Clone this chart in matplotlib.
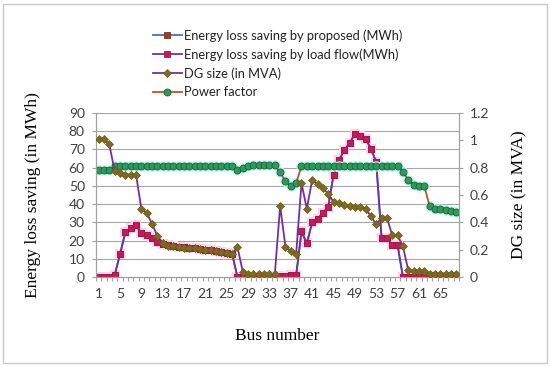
import matplotlib
matplotlib.use("Agg")
import matplotlib.pyplot as plt
from matplotlib.patches import Rectangle
from matplotlib.ticker import MultipleLocator, FixedLocator
import numpy as np

plt.rcParams['font.family'] = ['Lato', 'DejaVu Sans']

# bus numbers 1..68
bus = np.arange(1, 69)

# energy loss saving (MWh), proposed and load flow overlap
loss_proposed = [0, 0, 0, 1, 12.5, 24.5, 27, 28.5, 24, 23,
                 21.5, 19, 18, 17.3, 16.8, 16.5, 16.2, 16.0, 15.7, 15.4,
                 15.0, 14.7, 14.3, 13.5, 13.0, 12.7, 0, 0, 0, 0,
                 0, 0, 0, 0.5, 0.5, 0.5, 1, 1, 25, 18.5,
                 30, 32, 35, 38.5, 56, 64, 69.5, 73.5, 78.5, 77.5,
                 76, 70.5, 63, 21.5, 21.5, 17.5, 17.5, 0, 0, 0,
                 0, 0, 0, 0, 0, 0, 0, 0]
loss_loadflow = list(loss_proposed)

# DG size (MVA)
dg_size = [1.01, 1.01, 0.97, 0.775, 0.76, 0.75, 0.75, 0.75, 0.50, 0.47,
           0.39, 0.30, 0.25, 0.23, 0.225, 0.22, 0.215, 0.213, 0.21, 0.205,
           0.20, 0.195, 0.19, 0.18, 0.175, 0.17, 0.22, 0.04, 0.02, 0.02,
           0.02, 0.02, 0.02, 0.02, 0.52, 0.22, 0.19, 0.17, 0.685, 0.50,
           0.71, 0.68, 0.65, 0.61, 0.55, 0.54, 0.53, 0.52, 0.515, 0.51,
           0.50, 0.445, 0.385, 0.435, 0.435, 0.305, 0.305, 0.225, 0.05, 0.045,
           0.045, 0.045, 0.025, 0.025, 0.025, 0.025, 0.025, 0.025]

# power factor
pf = [0.78, 0.78, 0.78] + [0.81] * 23 + [0.78, 0.80, 0.815, 0.82,
      0.82, 0.82, 0.82, 0.82, 0.765, 0.70, 0.665, 0.69, 0.81, 0.81] + \
     [0.81] * 17 + [0.77, 0.71, 0.675, 0.665, 0.665, 0.52, 0.50, 0.495,
                    0.49, 0.485, 0.478]

fig = plt.figure(figsize=(5.5, 3.67), dpi=100)
ax = fig.add_axes([0.1745, 0.2452, 0.66, 0.4468])
ax2 = ax.twinx()

# glow under squares
ax.plot(bus, loss_loadflow, linestyle='none', marker='s', markersize=7.5,
        color='#FAD4EA', markeredgewidth=0, zorder=1)
l1, = ax.plot(bus, loss_proposed, color='#4472C4', linewidth=1.3,
              marker='s', markersize=5, markerfacecolor='#A33A26',
              markeredgecolor='#7F3022', markeredgewidth=0.6, zorder=2,
              label='Energy loss saving by proposed (MWh)')
l2, = ax.plot(bus, loss_loadflow, color='#7030A0', linewidth=1.3,
              marker='s', markersize=5, markerfacecolor='#C8185A',
              markeredgecolor='#9B1B4B', markeredgewidth=0.6, zorder=3,
              label='Energy loss saving by load flow(MWh)')

# glow under circles
ax2.plot(bus, pf, linestyle='none', marker='o', markersize=7.5,
         color='#B4F2F2', markeredgewidth=0, zorder=1)
l4, = ax2.plot(bus, pf, color='#C0502A', linewidth=1.3,
               marker='o', markersize=5, markerfacecolor='#2E9A58',
               markeredgecolor='#1F5F3A', markeredgewidth=0.6, zorder=2,
               label='Power factor')
l3, = ax2.plot(bus, dg_size, color='#7030A0', linewidth=1.3,
               marker='D', markersize=3.6, markerfacecolor='#7F6A1E',
               markeredgecolor='#6B5A18', markeredgewidth=0.5, zorder=3,
               label='DG size (in MVA)')

ax.set_xlim(0.5, 68.5)
ax.set_ylim(0, 90)
ax2.set_ylim(0, 1.2)
ax.yaxis.set_major_locator(MultipleLocator(10))
ax2.yaxis.set_major_locator(MultipleLocator(0.2))
ax2.yaxis.set_major_formatter(matplotlib.ticker.FuncFormatter(
    lambda v, p: '0' if abs(v) < 1e-9 else ('1' if abs(v - 1) < 1e-9 else f'{v:g}')))

ax.xaxis.set_major_locator(FixedLocator(list(range(1, 69, 4))))
ax.xaxis.set_minor_locator(FixedLocator(list(np.arange(0.5, 69, 1))))
ax.tick_params(axis='x', which='major', length=0, pad=8, labelsize=10,
               colors='#404040')
ax.tick_params(axis='x', which='minor', length=3, color='#A0A0A0', width=0.8)
ax.tick_params(axis='y', length=3, color='#A0A0A0', labelsize=10,
               labelcolor='#404040', pad=5)
ax2.tick_params(axis='y', length=3, color='#A0A0A0', labelsize=10,
                labelcolor='#404040', pad=5)

ax.grid(axis='y', color='#A6A6A6', linewidth=0.8)
ax.set_axisbelow(True)
for a in (ax, ax2):
    a.spines['top'].set_visible(False)
    for s in ('left', 'right', 'bottom'):
        a.spines[s].set_color('#A0A0A0')
        a.spines[s].set_linewidth(0.8)

serif = ['Liberation Serif', 'DejaVu Serif']
ax.set_ylabel('Energy loss saving (in MWh)', family=serif, fontsize=12.5,
              labelpad=20)
ax2.set_ylabel('DG size (in MVA)', family=serif, fontsize=12.5, labelpad=16)
ax.set_xlabel('Bus number', family=serif, fontsize=12.5, labelpad=20)

fig.legend(handles=[l1, l2, l3, l4], loc='upper left',
           bbox_to_anchor=(0.262, 0.945), frameon=False, fontsize=9.3,
           handlelength=2.2, handletextpad=0.2, labelspacing=0.5,
           borderpad=0.2, labelcolor='#222222')

fig.add_artist(Rectangle((0.0055, 0.011), 0.989, 0.978,
                         transform=fig.transFigure, fill=False,
                         edgecolor='#C8C8C8', linewidth=1))

fig.savefig('out.png', dpi=100)
